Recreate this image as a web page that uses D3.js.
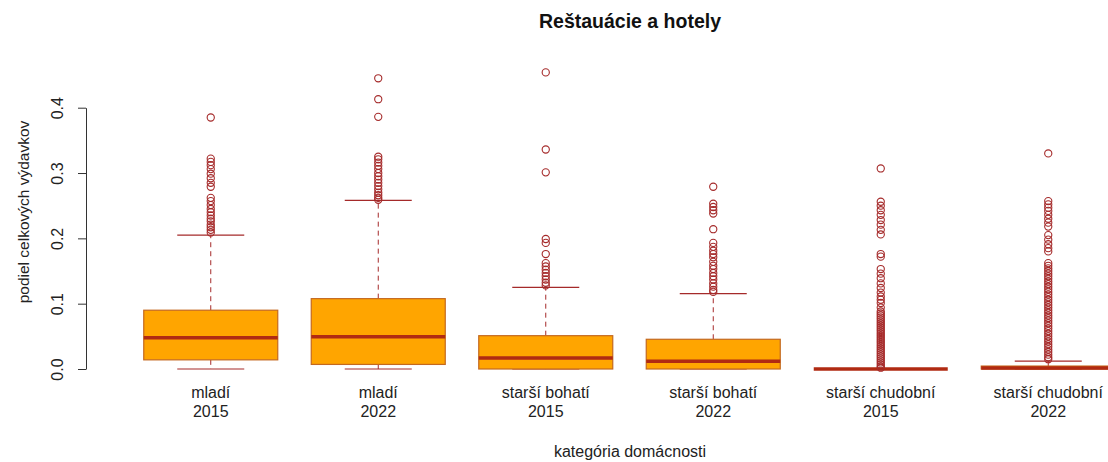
<!DOCTYPE html>
<html>
<head>
<meta charset="utf-8">
<script src="https://cdn.jsdelivr.net/npm/d3@7"></script>
<style>
  body { margin: 0; background: #fff; }
  text { font-family: "Liberation Sans", Arial, sans-serif; }
</style>
</head>
<body>
<div id="chart"></div>
<script>
// values
const groups = ['mladí', 'mladí', 'starší bohatí', 'starší bohatí', 'starší chudobní', 'starší chudobní'];
const years = ['2015', '2022', '2015', '2022', '2015', '2022'];
const lowWhisker = [0, 0, 0, 0, 0, 0];
const q1 = [0.014, 0.007, 0, 0, 0, 0];
const median = [0.048, 0.0495, 0.017, 0.012, 0, 0.0015];
const q3 = [0.090, 0.1077, 0.051, 0.0455, 0, 0.0045];
const highWhisker = [0.205, 0.258, 0.125, 0.1153, 0, 0.0122];
const outliers = [
    [0.385, 0.322, 0.317, 0.312, 0.306, 0.299, 0.292, 0.285, 0.279, 0.262, 0.257, 0.251, 0.245,
     0.240, 0.235, 0.230, 0.226, 0.221, 0.217, 0.213, 0.209],
    [0.445, 0.413, 0.386, 0.325, 0.321, 0.316, 0.311, 0.306, 0.300, 0.295, 0.290, 0.285, 0.280,
     0.275, 0.270, 0.266, 0.262, 0.259],
    [0.454, 0.336, 0.301, 0.199, 0.193, 0.176, 0.162, 0.157, 0.152, 0.147, 0.142, 0.137, 0.132, 0.128],
    [0.279, 0.253, 0.248, 0.243, 0.238, 0.214, 0.193, 0.187, 0.181, 0.176, 0.171, 0.164, 0.158,
     0.153, 0.147, 0.142, 0.137, 0.131, 0.126, 0.121, 0.118],
    [0.307, 0.256, 0.250, 0.243, 0.236, 0.228, 0.221, 0.213, 0.206, 0.176, 0.172, 0.153, 0.146,
     0.139, 0.131, 0.124, 0.117, 0.111, 0.106, 0.101, 0.094, 0.088, 0.085, 0.082, 0.079, 0.076,
     0.073, 0.070, 0.067, 0.064, 0.061, 0.058, 0.055, 0.052, 0.049, 0.046, 0.043, 0.040, 0.037,
     0.034, 0.031, 0.028, 0.025, 0.022, 0.019, 0.016, 0.013, 0.010, 0.007, 0.004, 0.002],
    [0.330, 0.257, 0.252, 0.247, 0.242, 0.236, 0.230, 0.224, 0.218, 0.205, 0.198, 0.191, 0.185,
     0.180, 0.162, 0.158, 0.154, 0.150, 0.146, 0.142, 0.138, 0.134, 0.130, 0.126, 0.122, 0.118,
     0.114, 0.110, 0.106, 0.102, 0.098, 0.094, 0.090, 0.086, 0.082, 0.078, 0.074, 0.070, 0.066,
     0.062, 0.058, 0.054, 0.050, 0.046, 0.042, 0.038, 0.034, 0.030, 0.026, 0.022, 0.018, 0.015]
];
const yTicks = [0, 0.1, 0.2, 0.3, 0.4];

const width = 1108;
const height = 462;
const brown = '#A52A2A';

const data = groups.map((g, i) => ({
    key: i, group: g, year: years[i],
    lo: lowWhisker[i], q1: q1[i], med: median[i], q3: q3[i], hi: highWhisker[i],
    out: outliers[i]
}));

const svg = d3.select('#chart')
    .append('svg')
    .attr('width', width)
    .attr('height', height);

const xScale = d3.scaleBand()
    .domain(data.map(d => d.key))
    .range([127, 1132])
    .paddingInner(0.2)
    .paddingOuter(0.1);

const yScale = d3.scaleLinear()
    .domain([0, 0.4])
    .range([369, 107.7]);

// y axis
const yAxis = svg.append('g')
    .attr('transform', 'translate(86, 0)')
    .call(d3.axisLeft(yScale).tickValues(yTicks).tickSize(8).tickSizeOuter(0).tickFormat(d3.format('.1f')));

yAxis.select('.domain').attr('stroke', '#333');
yAxis.selectAll('.tick line').attr('stroke', '#333');
yAxis.selectAll('.tick text')
    .attr('x', 0).attr('y', 0).attr('dy', null)
    .attr('transform', 'translate(-23, 0) rotate(-90)')
    .attr('text-anchor', 'middle')
    .style('font-size', '16px')
    .attr('fill', '#222');

const boxes = svg.append('g').selectAll('g')
    .data(data)
    .join('g');

const cx = d => xScale(d.key) + xScale.bandwidth() / 2;

// whiskers
boxes.append('line')
    .attr('x1', cx).attr('x2', cx)
    .attr('y1', d => yScale(d.q3)).attr('y2', d => yScale(d.hi))
    .attr('stroke', brown).attr('stroke-dasharray', '5,4');
boxes.append('line')
    .attr('x1', cx).attr('x2', cx)
    .attr('y1', d => yScale(d.q1)).attr('y2', d => yScale(d.lo))
    .attr('stroke', brown).attr('stroke-dasharray', '5,4');

// staples
[d => d.hi, d => d.lo].forEach(f => {
    boxes.append('line')
        .attr('x1', d => cx(d) - xScale.bandwidth() / 4)
        .attr('x2', d => cx(d) + xScale.bandwidth() / 4)
        .attr('y1', d => yScale(f(d))).attr('y2', d => yScale(f(d)))
        .attr('stroke', brown).attr('stroke-width', 1.2);
});

// boxes
boxes.append('rect')
    .attr('x', d => xScale(d.key))
    .attr('width', xScale.bandwidth())
    .attr('y', d => yScale(d.q3))
    .attr('height', d => yScale(d.q1) - yScale(d.q3))
    .attr('fill', '#FFA500')
    .attr('stroke', '#C4691F')
    .attr('stroke-width', 1.2);

// medians
boxes.append('line')
    .attr('x1', d => xScale(d.key))
    .attr('x2', d => xScale(d.key) + xScale.bandwidth())
    .attr('y1', d => yScale(d.med)).attr('y2', d => yScale(d.med))
    .attr('stroke', '#B02A12').attr('stroke-width', 3.5);

// outliers
boxes.selectAll('circle')
    .data(d => d.out.map(v => ({ key: d.key, v })))
    .join('circle')
    .attr('cx', cx)
    .attr('cy', d => yScale(d.v))
    .attr('r', 3.6)
    .attr('fill', 'none')
    .attr('stroke', brown)
    .attr('stroke-width', 1.1);

// category labels
const labels = svg.append('g').selectAll('text')
    .data(data)
    .join('text')
    .attr('text-anchor', 'middle')
    .style('font-size', '16px')
    .attr('fill', '#222');
labels.append('tspan').attr('x', cx).attr('y', 398).text(d => d.group);
labels.append('tspan').attr('x', cx).attr('y', 417).text(d => d.year);

// titles
svg.append('text')
    .attr('x', 630).attr('y', 28)
    .attr('text-anchor', 'middle')
    .style('font-size', '19.5px')
    .style('font-weight', 'bold')
    .attr('fill', '#111')
    .text('Reštauácie a hotely');

svg.append('text')
    .attr('x', 630).attr('y', 457)
    .attr('text-anchor', 'middle')
    .style('font-size', '16px')
    .attr('fill', '#222')
    .text('kategória domácnosti');

svg.append('text')
    .attr('transform', 'translate(29, 212) rotate(-90)')
    .attr('text-anchor', 'middle')
    .style('font-size', '15.5px')
    .attr('fill', '#222')
    .text('podiel celkových výdavkov');
</script>
</body>
</html>
